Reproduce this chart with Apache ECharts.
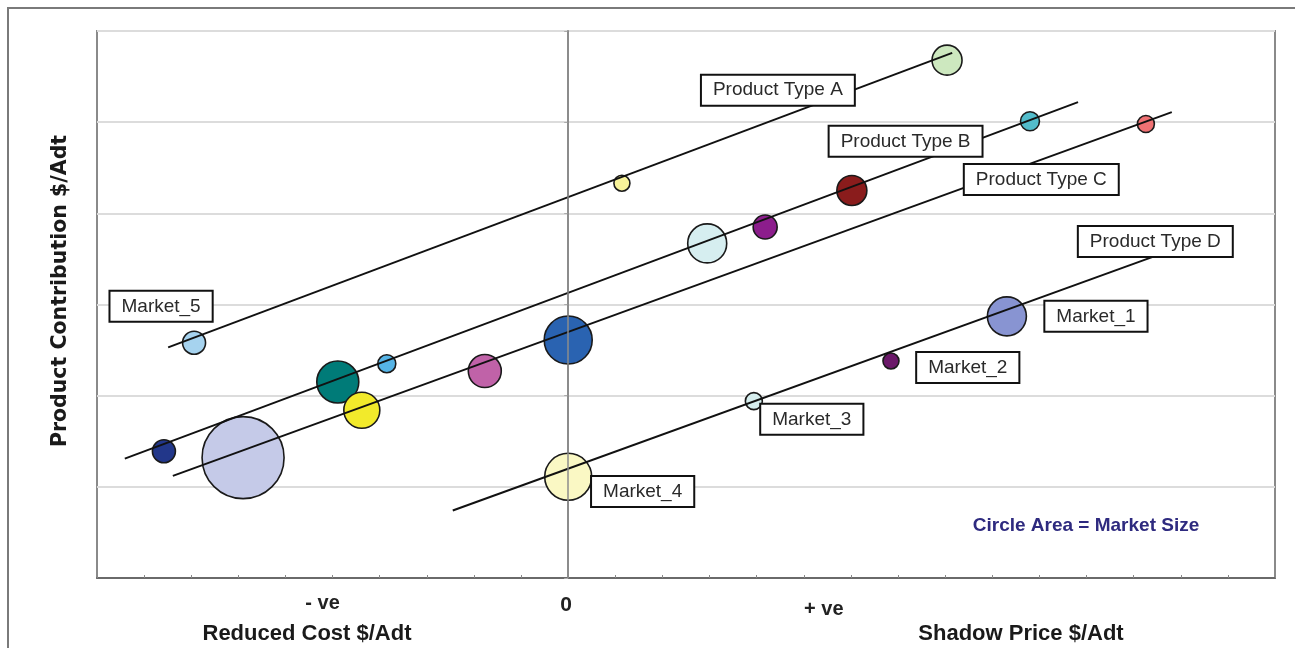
<!DOCTYPE html>
<html>
<head>
<meta charset="utf-8">
<script src="https://cdn.jsdelivr.net/npm/echarts@6/dist/echarts.min.js"></script>
<style>
html,body{margin:0;padding:0;background:#fff;}
#main{width:1295px;height:648px;}
</style>
</head>
<body>
<div id="main"></div>
<script>
// ---- axis ranges & tick labels ----
const xMin = -10, xMax = 15, xStep = 1;
const yMin = 0, yMax = 6, yStep = 1;
const xTickValues = [-5, 0, 5];
const xTickTexts = ['- ve', '0', '+ ve'];

// ---- product type lines (start / end points) ----
const productTypes = ['Product Type A', 'Product Type B', 'Product Type C', 'Product Type D'];
const lineStartX = [-8.49, -9.41, -8.39, -2.45];
const lineStartY = [2.53, 1.31, 1.12, 0.74];
const lineEndX = [8.15, 10.82, 12.81, 12.45];
const lineEndY = [5.76, 5.22, 5.11, 3.53];

// ---- markets (bubbles) ----
const bubbleNames = ['', '', 'Market_5', '', '', '', '', '', '', '', '', '', '', '', '', 'Market_1', 'Market_2', 'Market_3', 'Market_4'];
const bubbleX = [8.04, 1.14, -7.94, 9.80, 6.02, 4.18, 2.95, -3.85, -4.89, -8.58, 0.00, -1.77, -4.38, -6.90, 12.26, 9.31, 6.85, 3.94, 0.00];
const bubbleY = [5.68, 4.33, 2.58, 5.01, 4.25, 3.85, 3.67, 2.35, 2.15, 1.39, 2.61, 2.27, 1.84, 1.32, 4.98, 2.87, 2.38, 1.94, 1.11];
const marketSize = [225, 64, 132, 90, 225, 144, 380, 81, 441, 132, 576, 272, 324, 1681, 72, 380, 64, 72, 552];
const bubbleColors = ['#cde8bf', '#f8f39a', '#a6d3ef', '#52bccb', '#8a1c1c', '#8c1d8c', '#d6eef0', '#56b4e6', '#007b78', '#22378a',
                      '#2a63b1', '#c062a8', '#f2ea2b', '#c5cae8', '#f07173', '#8894d2', '#6b1869', '#d6eeee', '#faf8c4'];

// ---- annotation boxes (text and anchor in data units) ----
const noteTexts = ['Product Type A', 'Product Type B', 'Product Type C', 'Product Type D', 'Market_5', 'Market_1', 'Market_2', 'Market_3', 'Market_4'];
const noteX = [4.45, 7.16, 10.04, 12.46, -8.64, 11.20, 8.48, 5.17, 1.58];
const noteY = [5.35, 4.79, 4.37, 3.69, 2.98, 2.87, 2.31, 1.74, 0.95];

const chart = echarts.init(document.getElementById('main'));

const series = [];
// vertical zero line (under bubbles)
series.push({
  type: 'line', data: [], z: 1, silent: true,
  markLine: {
    symbol: 'none', silent: true, animation: false,
    label: { show: false },
    lineStyle: { color: '#8c8c8c', width: 1.5, type: 'solid' },
    data: [{ xAxis: 0 }]
  }
});
// bubbles
series.push({
  type: 'scatter', z: 3, silent: true,
  data: bubbleX.map((x, i) => ({
    name: bubbleNames[i],
    value: [x, bubbleY[i], marketSize[i]],
    itemStyle: { color: bubbleColors[i] }
  })),
  symbolSize: v => 2 * Math.sqrt(v[2]),
  itemStyle: { borderColor: '#1a1a1a', borderWidth: 1.6, opacity: 1 }
});
// product type lines
productTypes.forEach((name, i) => {
  series.push({
    type: 'line', name: name, z: 4, silent: true,
    symbol: 'none',
    data: [[lineStartX[i], lineStartY[i]], [lineEndX[i], lineEndY[i]]],
    lineStyle: { color: '#111', width: 2 }
  });
});
// annotation boxes
series.push({
  type: 'scatter', z: 5, silent: true,
  symbolSize: 2,
  itemStyle: { color: 'rgba(255,255,255,0)', borderWidth: 0 },
  data: noteTexts.map((t, i) => ({ value: [noteX[i], noteY[i]], name: t })),
  label: {
    show: true, position: [1, 1],
    formatter: p => p.name,
    fontFamily: 'Liberation Sans, Arial, sans-serif',
    fontSize: 19, color: '#2a2a2a', lineHeight: 21,
    textBorderWidth: 0, textBorderColor: 'transparent', opacity: 1,
    backgroundColor: '#ffffff', borderColor: '#111111', borderWidth: 2,
    padding: [4, 11, 4, 11],
    align: 'center', verticalAlign: 'middle'
  },
  labelLayout: { hideOverlap: false }
});

const option = {
  animation: false,
  backgroundColor: '#fff',
  grid: { left: 97, top: 31, right: 20, bottom: 70, show: true, borderColor: '#8a8a8a', borderWidth: 2, backgroundColor: 'transparent' },
  xAxis: {
    type: 'value', min: xMin, max: xMax, interval: xStep,
    axisLine: { show: true, lineStyle: { color: '#6a6a6a', width: 2 } },
    axisTick: { show: true, inside: true, length: 3, lineStyle: { color: '#888', width: 1 } },
    splitLine: { show: false },
    axisLabel: {
      show: true, margin: 15,
      formatter: v => {
        const k = xTickValues.indexOf(v);
        if (k < 0) return '';
        return '{t' + k + '|' + xTickTexts[k] + '}';
      },
      rich: {
        t0: { fontFamily: 'Liberation Sans, Arial, sans-serif', fontWeight: 'bold', fontSize: 20, color: '#222', padding: [0, 20, 0, 0] },
        t1: { fontFamily: 'Liberation Sans, Arial, sans-serif', fontWeight: 'bold', fontSize: 21, color: '#222', padding: [2, 4, 0, 0] },
        t2: { fontFamily: 'Liberation Sans, Arial, sans-serif', fontWeight: 'bold', fontSize: 20, color: '#222', padding: [6, 0, 0, 40] }
      }
    }
  },
  yAxis: {
    type: 'value', min: yMin, max: yMax, interval: yStep,
    axisLine: { show: true, lineStyle: { color: '#8a8a8a', width: 2 } },
    axisTick: { show: true, inside: false, length: 4, lineStyle: { color: '#aaa', width: 1 } },
    axisLabel: { show: false },
    splitLine: { show: true, lineStyle: { color: '#dcdcdc', width: 2 } }
  },
  graphic: [
    { type: 'rect', silent: true, z: -1, shape: { x: 8, y: 8, width: 1300, height: 700 },
      style: { fill: 'none', stroke: '#7a7a7a', lineWidth: 2 } },
    { type: 'text', silent: true, x: 61, y: 291, rotation: Math.PI / 2,
      style: { text: 'Product Contribution $/Adt', fontFamily: 'DejaVu Sans, sans-serif', fontWeight: 'bold', fontSize: 20.5,
               fill: '#1a1a1a', align: 'center', verticalAlign: 'middle' } },
    { type: 'text', silent: true, x: 307, y: 634,
      style: { text: 'Reduced Cost $/Adt', fontFamily: 'Liberation Sans, Arial, sans-serif', fontWeight: 'bold', fontSize: 22,
               fill: '#1a1a1a', align: 'center', verticalAlign: 'middle' } },
    { type: 'text', silent: true, x: 1021, y: 634,
      style: { text: 'Shadow Price $/Adt', fontFamily: 'Liberation Sans, Arial, sans-serif', fontWeight: 'bold', fontSize: 22,
               fill: '#1a1a1a', align: 'center', verticalAlign: 'middle' } },
    { type: 'text', silent: true, x: 1086, y: 526,
      style: { text: 'Circle Area = Market Size', fontFamily: 'Liberation Sans, Arial, sans-serif', fontWeight: 'bold', fontSize: 19,
               fill: '#2e2a7f', align: 'center', verticalAlign: 'middle' } }
  ],
  series: series
};
chart.setOption(option);
</script>
</body>
</html>
